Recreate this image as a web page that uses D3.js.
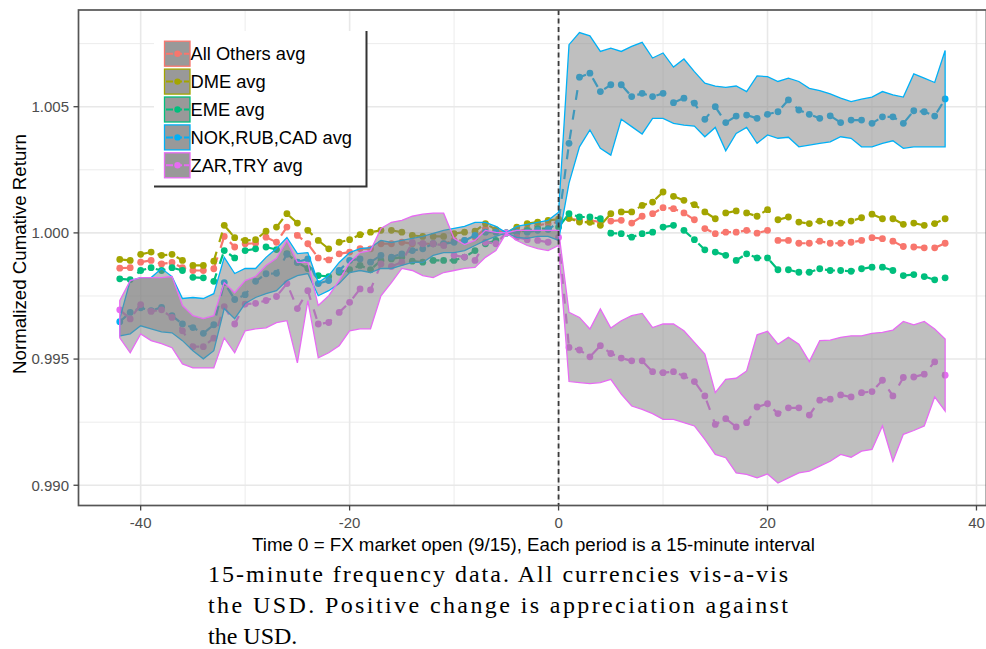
<!DOCTYPE html>
<html>
<head>
<meta charset="utf-8">
<script src="https://cdn.jsdelivr.net/npm/d3@7"></script>
<style>
    body { margin: 0; background: #fff; }
    svg { display: block; }
</style>
</head>
<body>
<svg id="chart" width="986" height="649"></svg>
<script>
// 15-minute periods around FX market open
const periods = d3.range(-42, 38);

const allOthers = [
    0.99860, 0.99862, 0.99884, 0.99891, 0.99877, 0.99883, 0.99862, 0.99851, 0.99851, 0.99858,
    0.99986, 0.99944, 0.99957, 0.99959, 0.99983, 0.99963, 1.00023, 0.99990, 0.99957, 0.99901,
    0.99893, 0.99917, 0.99924, 0.99938, 0.99937, 0.99957, 0.99957, 0.99963, 0.99957, 0.99957,
    0.99957, 0.99957, 0.99970, 0.99970, 0.99983, 1.00017, 1.00010, 1.00000, 1.00003, 1.00017,
    1.00030, 1.00037, 1.00043, 1.00058, 1.00050, 1.00050, 1.00043, 1.00047, 1.00050, 1.00039,
    1.00066, 1.00076, 1.00100, 1.00096, 1.00079, 1.00052, 1.00017, 0.99997, 1.00003, 1.00003,
    1.00010, 0.99999, 1.00010, 0.99970, 0.99970, 0.99959, 0.99959, 0.99967, 0.99959, 0.99959,
    0.99963, 0.99970, 0.99981, 0.99977, 0.99967, 0.99946, 0.99944, 0.99941, 0.99941, 0.99959
];
const dme = [
    0.99895, 0.99891, 0.99915, 0.99924, 0.99911, 0.99915, 0.99891, 0.99871, 0.99871, 0.99888,
    1.00030, 0.99981, 0.99970, 0.99973, 1.00007, 1.00023, 1.00076, 1.00039, 1.00010, 0.99970,
    0.99937, 0.99963, 0.99973, 0.99993, 1.00003, 1.00010, 1.00010, 1.00003, 0.99990, 0.99986,
    0.99986, 0.99986, 0.99997, 1.00003, 1.00007, 1.00037, 1.00013, 1.00000, 1.00023, 1.00037,
    1.00043, 1.00050, 1.00054, 1.00058, 1.00043, 1.00042, 1.00030, 1.00076, 1.00083, 1.00083,
    1.00109, 1.00122, 1.00162, 1.00145, 1.00129, 1.00112, 1.00083, 1.00056, 1.00079, 1.00087,
    1.00079, 1.00066, 1.00092, 1.00052, 1.00063, 1.00043, 1.00037, 1.00047, 1.00039, 1.00039,
    1.00047, 1.00060, 1.00074, 1.00056, 1.00056, 1.00034, 1.00039, 1.00030, 1.00037, 1.00056
];
const eme = [
    0.99818, 0.99815, 0.99851, 0.99862, 0.99851, 0.99862, 0.99851, 0.99824, 0.99822, 0.99808,
    0.99930, 0.99901, 0.99930, 0.99937, 0.99944, 0.99934, 0.99918, 0.99883, 0.99859, 0.99831,
    0.99827, 0.99844, 0.99854, 0.99871, 0.99854, 0.99891, 0.99897, 0.99904, 0.99888, 0.99884,
    0.99891, 0.99891, 0.99891, 0.99904, 0.99930, 0.99957, 0.99970, 1.00000, 1.00003, 1.00010,
    1.00017, 1.00017, 1.00023, 1.00076, 1.00063, 1.00063, 1.00056, 0.99999, 0.99997, 0.99983,
    0.99997, 1.00003, 1.00023, 1.00030, 1.00010, 0.99973, 0.99933, 0.99924, 0.99911, 0.99891,
    0.99917, 0.99901, 0.99901, 0.99854, 0.99854, 0.99844, 0.99844, 0.99858, 0.99851, 0.99851,
    0.99848, 0.99858, 0.99864, 0.99864, 0.99851, 0.99831, 0.99835, 0.99827, 0.99814, 0.99822
];
const nokRubCad = [
    0.99648, 0.99685, 0.99703, 0.99692, 0.99705, 0.99672, 0.99639, 0.99625, 0.99602, 0.99636,
    0.99803, 0.99736, 0.99755, 0.99808, 0.99838, 0.99840, 0.99915, 0.99884, 0.99897, 0.99799,
    0.99811, 0.99851, 0.99891, 0.99897, 0.99884, 0.99911, 0.99904, 0.99917, 0.99930, 0.99937,
    0.99957, 0.99957, 0.99963, 0.99970, 0.99990, 1.00003, 1.00003, 1.00000, 1.00003, 1.00003,
    1.00010, 1.00013, 1.00042, 1.00355, 1.00617, 1.00633, 1.00560, 1.00587, 1.00587, 1.00540,
    1.00553, 1.00540, 1.00553, 1.00516, 1.00534, 1.00514, 1.00450, 1.00500, 1.00437, 1.00463,
    1.00467, 1.00454, 1.00470, 1.00480, 1.00527, 1.00487, 1.00470, 1.00454, 1.00464, 1.00437,
    1.00447, 1.00447, 1.00434, 1.00460, 1.00460, 1.00434, 1.00484, 1.00480, 1.00463, 1.00531
];
const nokLower = [
    0.99592, 0.99600, 0.99632, 0.99620, 0.99608, 0.99604, 0.99573, 0.99533, 0.99501, 0.99533,
    0.99700, 0.99660, 0.99720, 0.99744, 0.99759, 0.99771, 0.99811, 0.99831, 0.99839, 0.99751,
    0.99771, 0.99799, 0.99843, 0.99851, 0.99843, 0.99859, 0.99859, 0.99871, 0.99883, 0.99883,
    0.99911, 0.99922, 0.99922, 0.99930, 0.99950, 0.99970, 0.99986, 1.00000, 0.99982, 0.99978,
    0.99986, 0.99986, 0.99970, 1.00197, 1.00341, 1.00408, 1.00335, 1.00308, 1.00450, 1.00421,
    1.00392, 1.00454, 1.00454, 1.00434, 1.00427, 1.00423, 1.00381, 1.00418, 1.00325, 1.00394,
    1.00418, 1.00355, 1.00388, 1.00375, 1.00379, 1.00341, 1.00348, 1.00355, 1.00361, 1.00381,
    1.00375, 1.00341, 1.00341, 1.00355, 1.00365, 1.00335, 1.00341, 1.00341, 1.00341, 1.00341
];
const nokUpper = [
    0.99660, 0.99811, 0.99823, 0.99823, 0.99859, 0.99827, 0.99740, 0.99744, 0.99740, 0.99759,
    0.99903, 0.99839, 0.99859, 0.99859, 0.99903, 0.99938, 0.99982, 0.99918, 0.99922, 0.99803,
    0.99831, 0.99883, 0.99922, 0.99938, 0.99942, 0.99970, 0.99962, 0.99970, 0.99978, 0.99986,
    0.99998, 1.00010, 1.00018, 1.00026, 1.00042, 1.00042, 1.00026, 1.00000, 1.00026, 1.00034,
    1.00042, 1.00050, 1.00082, 1.00746, 1.00794, 1.00781, 1.00719, 1.00732, 1.00719, 1.00739,
    1.00755, 1.00693, 1.00713, 1.00657, 1.00689, 1.00639, 1.00593, 1.00582, 1.00577, 1.00582,
    1.00560, 1.00622, 1.00619, 1.00600, 1.00613, 1.00600, 1.00573, 1.00564, 1.00551, 1.00534,
    1.00520, 1.00530, 1.00538, 1.00560, 1.00547, 1.00538, 1.00630, 1.00613, 1.00596, 1.00723
];
const zarTry = [
    0.99695, 0.99659, 0.99716, 0.99689, 0.99695, 0.99665, 0.99612, 0.99549, 0.99549, 0.99583,
    0.99708, 0.99639, 0.99718, 0.99721, 0.99732, 0.99748, 0.99799, 0.99700, 0.99771, 0.99639,
    0.99645, 0.99685, 0.99725, 0.99778, 0.99774, 0.99877, 0.99867, 0.99884, 0.99962, 0.99957,
    0.99957, 0.99950, 0.99911, 0.99904, 0.99891, 0.99963, 0.99957, 1.00000, 0.99983, 0.99973,
    0.99970, 0.99963, 0.99982, 0.99546, 0.99536, 0.99509, 0.99553, 0.99522, 0.99504, 0.99493,
    0.99493, 0.99450, 0.99446, 0.99450, 0.99433, 0.99411, 0.99354, 0.99241, 0.99264, 0.99231,
    0.99248, 0.99310, 0.99323, 0.99284, 0.99307, 0.99307, 0.99278, 0.99337, 0.99341, 0.99358,
    0.99350, 0.99367, 0.99371, 0.99416, 0.99354, 0.99427, 0.99429, 0.99440, 0.99489, 0.99436
];
const zarLower = [
    0.99584, 0.99525, 0.99600, 0.99573, 0.99561, 0.99545, 0.99481, 0.99465, 0.99465, 0.99465,
    0.99584, 0.99525, 0.99612, 0.99620, 0.99624, 0.99644, 0.99652, 0.99485, 0.99732, 0.99505,
    0.99525, 0.99553, 0.99612, 0.99620, 0.99620, 0.99751, 0.99803, 0.99859, 0.99851, 0.99831,
    0.99823, 0.99843, 0.99851, 0.99859, 0.99863, 0.99903, 0.99930, 1.00000, 0.99970, 0.99950,
    0.99938, 0.99930, 0.99950, 0.99411, 0.99407, 0.99403, 0.99407, 0.99420, 0.99361, 0.99314,
    0.99301, 0.99284, 0.99261, 0.99261, 0.99248, 0.99235, 0.99182, 0.99122, 0.99109, 0.99049,
    0.99043, 0.99029, 0.99045, 0.99009, 0.99029, 0.99049, 0.99056, 0.99076, 0.99095, 0.99122,
    0.99111, 0.99135, 0.99142, 0.99235, 0.99095, 0.99202, 0.99217, 0.99235, 0.99350, 0.99294
];
const zarUpper = [
    0.99732, 0.99811, 0.99823, 0.99823, 0.99823, 0.99827, 0.99712, 0.99672, 0.99660, 0.99672,
    0.99803, 0.99763, 0.99811, 0.99827, 0.99871, 0.99899, 0.99970, 0.99883, 0.99883, 0.99712,
    0.99751, 0.99811, 0.99883, 0.99922, 0.99930, 1.00018, 1.00042, 1.00050, 1.00066, 1.00074,
    1.00078, 1.00078, 0.99978, 0.99954, 0.99970, 1.00010, 1.00002, 1.00000, 1.00010, 1.00010,
    1.00010, 1.00010, 1.00010, 0.99685, 0.99665, 0.99619, 0.99699, 0.99623, 0.99652, 0.99672,
    0.99681, 0.99625, 0.99639, 0.99639, 0.99612, 0.99566, 0.99520, 0.99367, 0.99420, 0.99424,
    0.99453, 0.99596, 0.99610, 0.99559, 0.99586, 0.99559, 0.99490, 0.99573, 0.99575, 0.99586,
    0.99592, 0.99592, 0.99602, 0.99606, 0.99615, 0.99649, 0.99636, 0.99649, 0.99619, 0.99579
];

const seriesNames = ["All Others avg", "DME avg", "EME avg", "NOK,RUB,CAD avg", "ZAR,TRY avg"];
const seriesColors = ["#F8766D", "#A3A500", "#00BF7D", "#00B0F6", "#E76BF3"];
const xTicks = [-40, -20, 0, 20, 40];
const xMinor = [-30, -10, 10, 30];
const yTicks = [0.990, 0.995, 1.000, 1.005];
const yMinor = [0.9925, 0.9975, 1.0025, 1.0075];
const captionLines = [
    "15-minute frequency data. All currencies vis-a-vis",
    "the USD. Positive change is appreciation against",
    "the USD."
];

const panel = {left: 78.5, top: 10, right: 986.4, bottom: 505.5};
const sans = "'Liberation Sans', Arial, sans-serif";
const svg = d3.select('#chart');

function expand(ext) {
    const pad = (ext[1] - ext[0]) * 0.05;
    return [ext[0] - pad, ext[1] + pad];
}

const series = seriesNames.map((name, i) => ({
    name: name,
    color: seriesColors[i],
    values: [allOthers, dme, eme, nokRubCad, zarTry][i]
}));
const bands = [
    {color: seriesColors[3], lower: nokLower, upper: nokUpper},
    {color: seriesColors[4], lower: zarLower, upper: zarUpper}
];

const x = d3.scaleLinear()
    .domain(expand(d3.extent(periods)))
    .range([panel.left, panel.right]);

const allValues = [].concat(allOthers, dme, eme, nokRubCad, zarTry, nokLower, nokUpper, zarLower, zarUpper);
const y = d3.scaleLinear()
    .domain(expand(d3.extent(allValues)))
    .range([panel.bottom, panel.top]);

function renderChart() {
    // grid
    const grid = svg.append('g').attr('class', 'grid');
    grid.selectAll('line.vminor').data(xMinor).enter().append('line')
        .attr('x1', d => x(d)).attr('x2', d => x(d))
        .attr('y1', panel.top).attr('y2', panel.bottom)
        .attr('stroke', '#ececec').attr('stroke-width', 1);
    grid.selectAll('line.hminor').data(yMinor).enter().append('line')
        .attr('x1', panel.left).attr('x2', panel.right)
        .attr('y1', d => y(d)).attr('y2', d => y(d))
        .attr('stroke', '#ececec').attr('stroke-width', 1);
    grid.selectAll('line.vmajor').data(xTicks).enter().append('line')
        .attr('x1', d => x(d)).attr('x2', d => x(d))
        .attr('y1', panel.top).attr('y2', panel.bottom)
        .attr('stroke', '#e8e8e8').attr('stroke-width', 1.6);
    grid.selectAll('line.hmajor').data(yTicks).enter().append('line')
        .attr('x1', panel.left).attr('x2', panel.right)
        .attr('y1', d => y(d)).attr('y2', d => y(d))
        .attr('stroke', '#e8e8e8').attr('stroke-width', 1.6);

    // mean lines with points
    const line = d3.line()
        .x((d, i) => x(periods[i]))
        .y(d => y(d));

    const groups = svg.append('g').attr('class', 'series')
        .selectAll('g')
        .data(series)
        .enter().append('g');

    groups.append('path')
        .attr('d', d => line(d.values))
        .attr('fill', 'none')
        .attr('stroke', d => d.color)
        .attr('stroke-width', 2.2)
        .attr('stroke-dasharray', '10,10');

    groups.selectAll('circle')
        .data(d => d.values.map((v, i) => ({t: periods[i], v: v, color: d.color})))
        .enter().append('circle')
        .attr('cx', d => x(d.t))
        .attr('cy', d => y(d.v))
        .attr('r', 3.4)
        .style('fill', d => d.color);

    // ribbons on top
    svg.append('g').attr('class', 'bands')
        .selectAll('path')
        .data(bands)
        .enter().append('path')
        .attr('d', b => d3.area()
            .x((d, i) => x(periods[i]))
            .y0((d, i) => y(b.lower[i]))
            .y1((d, i) => y(b.upper[i]))(b.lower))
        .attr('fill', '#7f7f7f')
        .attr('fill-opacity', 0.5)
        .attr('stroke', b => b.color)
        .attr('stroke-width', 1.3);

    // market open marker
    svg.append('line')
        .attr('x1', x(0)).attr('x2', x(0))
        .attr('y1', panel.top).attr('y2', panel.bottom)
        .attr('stroke', '#3a3a3a')
        .attr('stroke-width', 1.8)
        .attr('stroke-dasharray', '5,3.5');

    // panel border
    svg.append('rect')
        .attr('x', panel.left).attr('y', panel.top)
        .attr('width', panel.right - panel.left)
        .attr('height', panel.bottom - panel.top)
        .attr('fill', 'none')
        .attr('stroke', '#555')
        .attr('stroke-width', 1.7);

    // axes
    const xAxis = svg.append('g');
    xAxis.selectAll('line').data(xTicks).enter().append('line')
        .attr('x1', d => x(d)).attr('x2', d => x(d))
        .attr('y1', panel.bottom).attr('y2', panel.bottom + 5)
        .attr('stroke', '#444').attr('stroke-width', 1.3);
    xAxis.selectAll('text').data(xTicks).enter().append('text')
        .attr('x', d => x(d)).attr('y', 528)
        .attr('text-anchor', 'middle')
        .style('font-family', sans).style('font-size', '15px').style('fill', '#4d4d4d')
        .text(d => d);

    const yAxis = svg.append('g');
    yAxis.selectAll('line').data(yTicks).enter().append('line')
        .attr('x1', panel.left - 5).attr('x2', panel.left)
        .attr('y1', d => y(d)).attr('y2', d => y(d))
        .attr('stroke', '#444').attr('stroke-width', 1.3);
    yAxis.selectAll('text').data(yTicks).enter().append('text')
        .attr('x', 69).attr('y', d => y(d) + 5.3)
        .attr('text-anchor', 'end')
        .style('font-family', sans).style('font-size', '15px').style('fill', '#4d4d4d')
        .text(d => d3.format('.3f')(d));

    svg.append('text')
        .attr('x', (panel.left + panel.right) / 2 + 1)
        .attr('y', 551)
        .attr('text-anchor', 'middle')
        .style('font-family', sans).style('font-size', '18.7px').style('fill', '#000')
        .text('Time 0 = FX market open (9/15), Each period is a 15-minute interval');

    svg.append('text')
        .attr('transform', 'translate(25.5,254) rotate(-90)')
        .attr('text-anchor', 'middle')
        .style('font-family', sans).style('font-size', '18.7px').style('fill', '#000')
        .text('Normalized Cumative Return');

    // legend
    const legend = svg.append('g').attr('transform', 'translate(154,31)');
    legend.append('rect')
        .attr('width', 213).attr('height', 156)
        .attr('fill', '#fff');
    legend.append('path')
        .attr('d', 'M212.5,0V155.5H0')
        .attr('fill', 'none')
        .attr('stroke', '#333')
        .attr('stroke-width', 2);

    const keys = legend.selectAll('g.key')
        .data(series)
        .enter().append('g')
        .attr('class', 'key')
        .attr('transform', (d, i) => `translate(10,${9.7 + i * 27.9})`);
    keys.append('rect')
        .attr('x', 0.5).attr('y', 0.5)
        .attr('width', 25.5).attr('height', 25)
        .attr('fill', '#999')
        .attr('stroke', d => d.color)
        .attr('stroke-width', 1.3);
    keys.append('line')
        .attr('x1', 2).attr('x2', 25)
        .attr('y1', 13).attr('y2', 13)
        .attr('stroke', d => d.color)
        .attr('stroke-width', 2)
        .attr('stroke-dasharray', '7,2');
    keys.append('circle')
        .attr('cx', 13.5).attr('cy', 13)
        .attr('r', 3.2)
        .style('fill', d => d.color);
    keys.append('text')
        .attr('x', 26.5).attr('y', 19.5)
        .style('font-family', sans).style('font-size', '18.3px').style('fill', '#000')
        .text(d => d.name);

    // caption under the figure
    svg.append('g').selectAll('text')
        .data(captionLines)
        .enter().append('text')
        .attr('x', 208)
        .attr('y', (d, i) => 582 + i * 31.2)
        .attr('textLength', (d, i) => i < 2 ? 580 : null)
        .attr('lengthAdjust', 'spacing')
        .style('font-family', "'Liberation Serif', 'Times New Roman', serif")
        .style('font-size', '24px')
        .style('fill', '#000')
        .text(d => d);
}

renderChart();
</script>
</body>
</html>
